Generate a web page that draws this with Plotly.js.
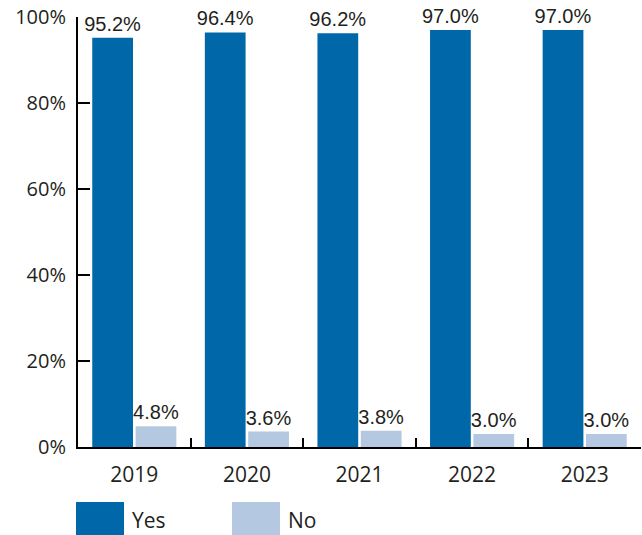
<!DOCTYPE html>
<html>
<head>
<meta charset="utf-8">
<script src="https://cdn.plot.ly/plotly-3.0.1.min.js"></script>
<style>
html,body{margin:0;padding:0;background:#fff;}
#chart{width:642px;height:535px;}
</style>
</head>
<body>
<div id="chart"></div>
<script>
const years = ['2019', '2020', '2021', '2022', '2023'];
const yesValues = [95.2, 96.4, 96.2, 97.0, 97.0];
const noValues = [4.8, 3.6, 3.8, 3.0, 3.0];
const seriesNames = ['Yes', 'No'];
const yTicks = [0, 20, 40, 60, 80, 100];

const W = 642, H = 535;
const M = {l: 78, r: 1, t: 17, b: 88};
const PW = W - M.l - M.r, PH = H - M.t - M.b;
const px = x => (x - M.l) / PW;
const py = y => (H - M.b - y) / PH;

const dark = '#0068a8';
const light = '#b4c8e2';
const ink = '#231f20';
const labelFont = {family: 'Liberation Sans Narrow, Arial Narrow, sans-serif', size: 20, color: ink};

const traces = [
  {type: 'bar', x: years, y: yesValues, name: seriesNames[0], marker: {color: dark},
   texttemplate: '%{y:.1f}%', textposition: 'outside', textfont: labelFont,
   constraintext: 'none', cliponaxis: false, hoverinfo: 'none'},
  {type: 'bar', x: years, y: noValues, name: seriesNames[1], marker: {color: light},
   texttemplate: '%{y:.1f}%', textposition: 'outside', textfont: labelFont,
   constraintext: 'none', cliponaxis: false, hoverinfo: 'none'}
];

const legendItems = [
  {x0: 76, color: dark, name: seriesNames[0]},
  {x0: 232, color: light, name: seriesNames[1]}
];
const shapes = legendItems.map(it => ({
  type: 'rect', xref: 'paper', yref: 'paper',
  x0: px(it.x0), x1: px(it.x0 + 48), y0: py(502), y1: py(540),
  fillcolor: it.color, line: {width: 0}
}));
const annotations = legendItems.map(it => ({
  xref: 'paper', yref: 'paper', x: px(it.x0 + 54), y: py(520),
  xanchor: 'left', yanchor: 'middle', showarrow: false, text: it.name,
  font: {family: 'Open Sans, sans-serif', size: 21, color: ink}
}));

const layout = {
  width: W, height: H,
  margin: M,
  paper_bgcolor: '#fff', plot_bgcolor: '#fff',
  showlegend: false,
  barmode: 'group', bargap: 0.23, bargroupgap: 0.06,
  font: {family: 'Open Sans, sans-serif', color: ink},
  xaxis: {
    type: 'category', range: [-0.5, 4.5], tickson: 'boundaries',
    ticks: 'inside', ticklen: 9, tickwidth: 2, tickcolor: '#000',
    showline: true, linewidth: 2, linecolor: '#000', showgrid: false, zeroline: false,
    tickfont: {family: 'Open Sans, sans-serif', size: 21, color: ink},
    ticklabelstandoff: 8, fixedrange: true
  },
  yaxis: {
    range: [0, 100], tickvals: yTicks, ticktext: yTicks.map(v => v + '%'),
    ticks: 'inside', ticklen: 12, tickwidth: 2, tickcolor: '#000',
    showline: true, linewidth: 2, linecolor: '#000', showgrid: false, zeroline: false,
    tickfont: {family: 'Open Sans, sans-serif', size: 20, color: ink},
    ticklabelstandoff: 6, fixedrange: true
  },
  shapes: shapes,
  annotations: annotations
};

Plotly.newPlot('chart', traces, layout, {displayModeBar: false, staticPlot: true});
</script>
</body>
</html>
